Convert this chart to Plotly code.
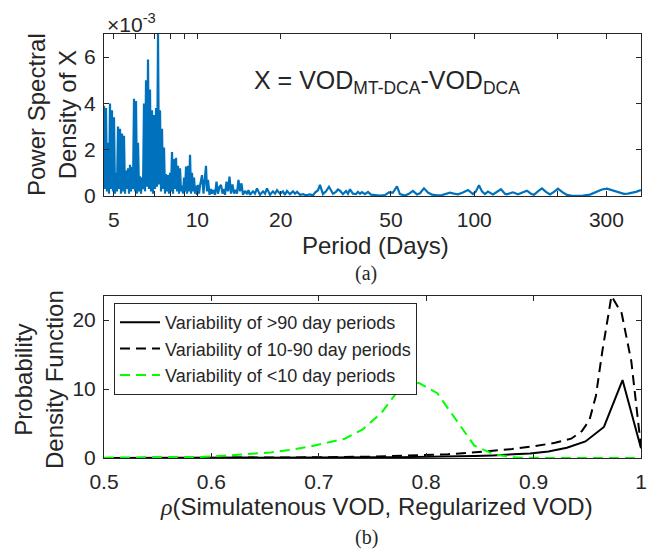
import math
import plotly.graph_objects as go
from plotly.subplots import make_subplots

# ---------------- (a) power spectral density of X ----------------
# period in days
period = [
    4.604, 4.642, 4.681, 4.720, 4.760, 4.799, 4.839, 4.880, 4.920, 4.962,
    5.003, 5.045, 5.087, 5.129, 5.172, 5.215, 5.259, 5.303, 5.347, 5.392,
    5.437, 5.482, 5.528, 5.574, 5.621, 5.668, 5.715, 5.763, 5.811, 5.859,
    5.909, 5.958, 6.008, 6.058, 6.109, 6.160, 6.211, 6.263, 6.315, 6.368,
    6.421, 6.475, 6.529, 6.583, 6.638, 6.693, 6.749, 6.806, 6.862, 6.920,
    6.978, 7.036, 7.095, 7.154, 7.214, 7.274, 7.335, 7.396, 7.458, 7.520,
    7.583, 7.646, 7.710, 7.774, 7.839, 7.905, 7.971, 8.037, 8.104, 8.172,
    8.241, 8.310, 8.379, 8.449, 8.519, 8.591, 8.662, 8.734, 8.807, 8.881,
    8.956, 9.031, 9.106, 9.182, 9.259, 9.336, 9.414, 9.492, 9.571, 9.651,
    9.733, 9.814, 9.896, 9.978, 10.061, 10.145, 10.230,
    10.40, 10.53, 10.66, 10.75, 10.84, 10.93, 11.07, 11.21, 11.30, 11.44,
    11.59, 11.73, 11.88, 12.03, 12.18, 12.33, 12.49, 12.59, 12.75, 12.91,
    13.07, 13.23, 13.40, 13.57, 13.74, 13.91, 14.08, 14.26, 14.44, 14.62,
    14.87, 15.12, 15.30, 15.50, 15.89, 16.15, 16.43, 16.84, 17.27, 17.56,
    17.85, 18.30, 18.76, 19.08, 19.40, 19.89, 20.39, 20.73, 21.08, 21.61,
    22.16, 22.53, 22.91, 23.49, 24.08, 24.69, 25.52, 26.17, 26.61, 27.28,
    27.73, 28.43, 29.15, 29.89, 30.90, 31.68, 32.21, 32.75, 33.57, 34.42,
    35.00, 35.58, 36.48, 37.40, 38.03, 38.67, 39.32, 40.31, 41.33, 42.37,
    43.80, 45.66, 47.60, 49.21, 50.87, 52.59, 53.92, 56.21, 58.11, 60.07,
    62.10, 63.67, 65.82, 68.05, 70.35, 73.34, 76.45, 79.03, 81.70, 84.47,
    87.32, 91.03, 94.89, 98.93, 101.42, 103.98, 106.61, 109.29, 112.06, 116.81,
    120.76, 124.85, 129.07, 131.23, 134.54, 137.94, 143.80, 148.66, 154.97, 160.21,
    164.25, 169.80, 175.54, 181.48, 187.64, 193.99, 200.55, 209.07, 216.14, 225.30,
    234.86, 246.88, 261.66, 275.04, 289.11, 301.37, 314.16, 330.24, 347.13, 358.87,
    371.01, 383.56, 399.88,
]
# PSD in units of 1e-3
psd_e3 = [
    3.9, 0.3, 3.8, 0.2, 2.3, 0.1, 4.0, 0.3, 3.7, 0.2,
    3.4, 0.1, 1.0, 0.2, 3.0, 0.3, 2.9, 0.1, 2.7, 0.2,
    2.6, 0.1, 1.1, 0.3, 1.2, 0.1, 1.35, 0.2, 1.25, 0.3,
    4.2, 0.2, 4.1, 0.1, 2.3, 0.2, 0.85, 0.1, 0.8, 0.3,
    4.0, 0.2, 5.0, 0.4, 5.9, 0.3, 4.6, 0.2, 3.7, 0.1,
    3.5, 0.3, 3.8, 0.4, 7.0, 0.5, 3.7, 0.2, 2.9, 0.3,
    2.1, 0.1, 0.95, 0.2, 0.9, 0.1, 1.0, 0.2, 1.9, 0.1,
    1.6, 0.3, 1.65, 0.2, 1.3, 0.1, 1.2, 0.2, 0.45, 0.1,
    0.8, 0.2, 1.27, 0.1, 1.3, 0.2, 1.78, 0.1, 1.0, 0.2,
    0.8, 0.1, 0.45, 0.05, 0.48, 0.1, 0.45,
    0.9, 0.1, 1.1, 1.3, 0.2, 0.7, 0.05, 0.3, 0.1, 0.26,
    0.05, 0.62, 0.1, 0.4, 0.48, 0.1, 0.3, 0.05, 0.62, 0.2,
    0.84, 0.1, 0.5, 0.1, 0.26, 0.1, 0.7, 0.2, 0.55, 0.05,
    0.22, 0.08, 0.26, 0.05, 0.2, 0.1, 0.33, 0.05, 0.2, 0.1,
    0.33, 0.05, 0.2, 0.1, 0.25, 0.1, 0.2, 0.05, 0.22, 0.08,
    0.2, 0.1, 0.18, 0.05, 0.08, 0.03, 0.07, 0.03, 0.15, 0.25,
    0.48, 0.08, 0.2, 0.4, 0.1, 0.18, 0.28, 0.23, 0.08, 0.22,
    0.1, 0.29, 0.1, 0.08, 0.18, 0.1, 0.17, 0.08, 0.18, 0.06,
    0.04, 0.02, 0.04, 0.16, 0.15, 0.42, 0.08, 0.02, 0.1, 0.22,
    0.07, 0.12, 0.33, 0.15, 0.06, 0.03, 0.04, 0.08, 0.14, 0.1,
    0.07, 0.15, 0.26, 0.08, 0.2, 0.46, 0.2, 0.08, 0.19, 0.07,
    0.2, 0.29, 0.1, 0.07, 0.12, 0.16, 0.07, 0.15, 0.23, 0.1,
    0.05, 0.2, 0.33, 0.18, 0.07, 0.18, 0.32, 0.15, 0.05, 0.01,
    0.0, 0.02, 0.06, 0.18, 0.28, 0.32, 0.25, 0.15, 0.09, 0.1,
    0.13, 0.18, 0.26,
]
period_ticks = [5, 10, 20, 50, 100, 300]
period_minor = [6, 7, 8, 9, 200]
psd_ticks = [0, 2, 4, 6]

# ---------------- (b) PDFs of correlation ----------------
rho = [0.5, 0.5172, 0.5345, 0.5517, 0.5690, 0.5862, 0.6034, 0.6207, 0.6379, 0.6552,
       0.6724, 0.6897, 0.7069, 0.7241, 0.7414, 0.7586, 0.7759, 0.7931, 0.8103, 0.8276,
       0.8448, 0.8621, 0.8793, 0.8966, 0.9138, 0.9310, 0.9483, 0.9655, 0.9828, 1.0]
pdf_long = [0, 0, 0, 0, 0, 0, 0, 0, 0, 0.01,
            0.01, 0.02, 0.03, 0.05, 0.07, 0.1, 0.12, 0.15, 0.2, 0.25,
            0.3, 0.38, 0.48, 0.65, 0.95, 1.5, 2.4, 4.5, 11.3, 1.4]
pdf_short = [0.05, 0.05, 0.05, 0.05, 0.08, 0.12, 0.25, 0.4, 0.55, 0.8,
             1.15, 1.6, 2.2, 2.8, 4.2, 6.6, 10.2, 10.9, 9.4, 5.6,
             1.8, 0.6, 0.1, 0.02, 0, 0, 0, 0, 0, 0]
rho_mid = [0.5, 0.6, 0.65, 0.7, 0.75, 0.8, 0.82, 0.84, 0.86, 0.88, 0.90,
           0.92, 0.935, 0.945, 0.952, 0.958, 0.964, 0.9725, 0.982, 0.991, 1.0]
pdf_mid = [0.0, 0.02, 0.05, 0.1, 0.2, 0.4, 0.55, 0.75, 1.0, 1.3, 1.7,
           2.2, 2.8, 3.9, 5.5, 9.0, 15.5, 23.5, 21.0, 14.0, 1.6]
rho_ticks = [0.5, 0.6, 0.7, 0.8, 0.9, 1.0]
rho_ticktext = ["0.5", "0.6", "0.7", "0.8", "0.9", "1"]
pdf_ticks = [0, 10, 20]

legend_names = ["Variability of >90 day periods",
                "Variability of 10-90 day periods",
                "Variability of <10 day periods"]

# The page body keeps the browser's default 8px margin, so the figure is
# sized 8px smaller and every layout position is given in window pixels
# minus that offset.
OFF = 8
W, H = 657 - OFF, 557 - OFF
FONT = "Liberation Sans, Arial, Helvetica, sans-serif"
SERIF = "Liberation Serif, Times New Roman, serif"
INK = "#262626"


def px(x):
    return (x - OFF) / W


def py(y):
    return 1 - (y - OFF) / H


fig = make_subplots(rows=2, cols=1)

fig.add_trace(go.Scatter(x=period, y=psd_e3, mode="lines",
                         line=dict(color="#0072BD", width=2.2),
                         showlegend=False), row=1, col=1)

fig.add_trace(go.Scatter(x=rho, y=pdf_long, mode="lines", name=legend_names[0],
                         line=dict(color="black", width=2)), row=2, col=1)
fig.add_trace(go.Scatter(x=rho_mid, y=pdf_mid, mode="lines", name=legend_names[1],
                         line=dict(color="black", width=2, dash="10px,6px")), row=2, col=1)
fig.add_trace(go.Scatter(x=rho, y=pdf_short, mode="lines", name=legend_names[2],
                         line=dict(color="#00FF00", width=2, dash="10px,6px")), row=2, col=1)

ax_common = dict(showline=True, linecolor=INK, linewidth=1, mirror="allticks",
                 ticks="inside", ticklen=5, tickcolor=INK, tickwidth=1,
                 showgrid=False, zeroline=False, automargin=False,
                 tickfont=dict(family=FONT, size=21, color=INK))

fig.update_layout(
    xaxis=dict(domain=[px(104), px(641)], type="log",
               range=[math.log10(4.604), math.log10(400)],
               tickvals=period_ticks, ticktext=[str(t) for t in period_ticks],
               minor=dict(tickvals=period_minor, ticks="inside", ticklen=5,
                          tickcolor=INK, showgrid=False),
               ticklabelstandoff=5, **ax_common),
    yaxis=dict(domain=[py(196), py(34)], range=[0, 7],
               tickvals=psd_ticks, ticklabelstandoff=3, **ax_common),
    xaxis2=dict(domain=[px(104), px(641)], range=[0.5, 1.0],
                tickvals=rho_ticks, ticktext=rho_ticktext,
                ticklabelstandoff=5, **ax_common),
    yaxis2=dict(domain=[py(458), py(296)], range=[0, 23.5],
                tickvals=pdf_ticks, ticklabelstandoff=3, **ax_common),
)

fig.update_layout(
    width=W, height=H,
    margin=dict(l=0, r=0, t=0, b=0, pad=0, autoexpand=False),
    paper_bgcolor="white", plot_bgcolor="white",
    font=dict(family=FONT, color=INK),
    showlegend=True,
    legend=dict(x=px(114), y=py(303), xanchor="left", yanchor="top",
                bgcolor="white", bordercolor=INK, borderwidth=1,
                font=dict(family=FONT, size=18, color=INK),
                itemwidth=40, tracegroupgap=0),
)

ann = [
    dict(text="Power Spectral<br>Density of X", x=px(52), y=py(115),
         textangle=-90, font=dict(size=24)),
    dict(text="Probability<br>Density Function", x=px(39), y=py(380),
         textangle=-90, font=dict(size=24)),
    dict(text="Period (Days)", x=px(375), y=py(245), font=dict(size=24)),
    dict(text="<span style='font-family:Liberation Serif'><i>ρ</i></span>(Simulatenous VOD, Regularized VOD)",
         x=px(377), y=py(506), font=dict(size=24)),
    dict(text="(a)", x=px(366), y=py(274), font=dict(size=20, family=SERIF)),
    dict(text="(b)", x=px(366), y=py(537), font=dict(size=20, family=SERIF)),
    dict(text="×10<sup>-3</sup>", x=px(105), y=py(8.5), xanchor="left",
         yanchor="top", font=dict(size=21)),
    dict(text="X = VOD<sub>MT-DCA</sub>-VOD<sub>DCA</sub>", x=px(252), y=py(82),
         xanchor="left", font=dict(size=25)),
]
for a in ann:
    a.setdefault("xanchor", "center")
    a.setdefault("yanchor", "middle")
    a["xref"] = "paper"
    a["yref"] = "paper"
    a["showarrow"] = False
    a["font"].setdefault("family", FONT)
    a["font"].setdefault("color", INK)
fig.update_layout(annotations=ann)

fig.write_html("out.html")
